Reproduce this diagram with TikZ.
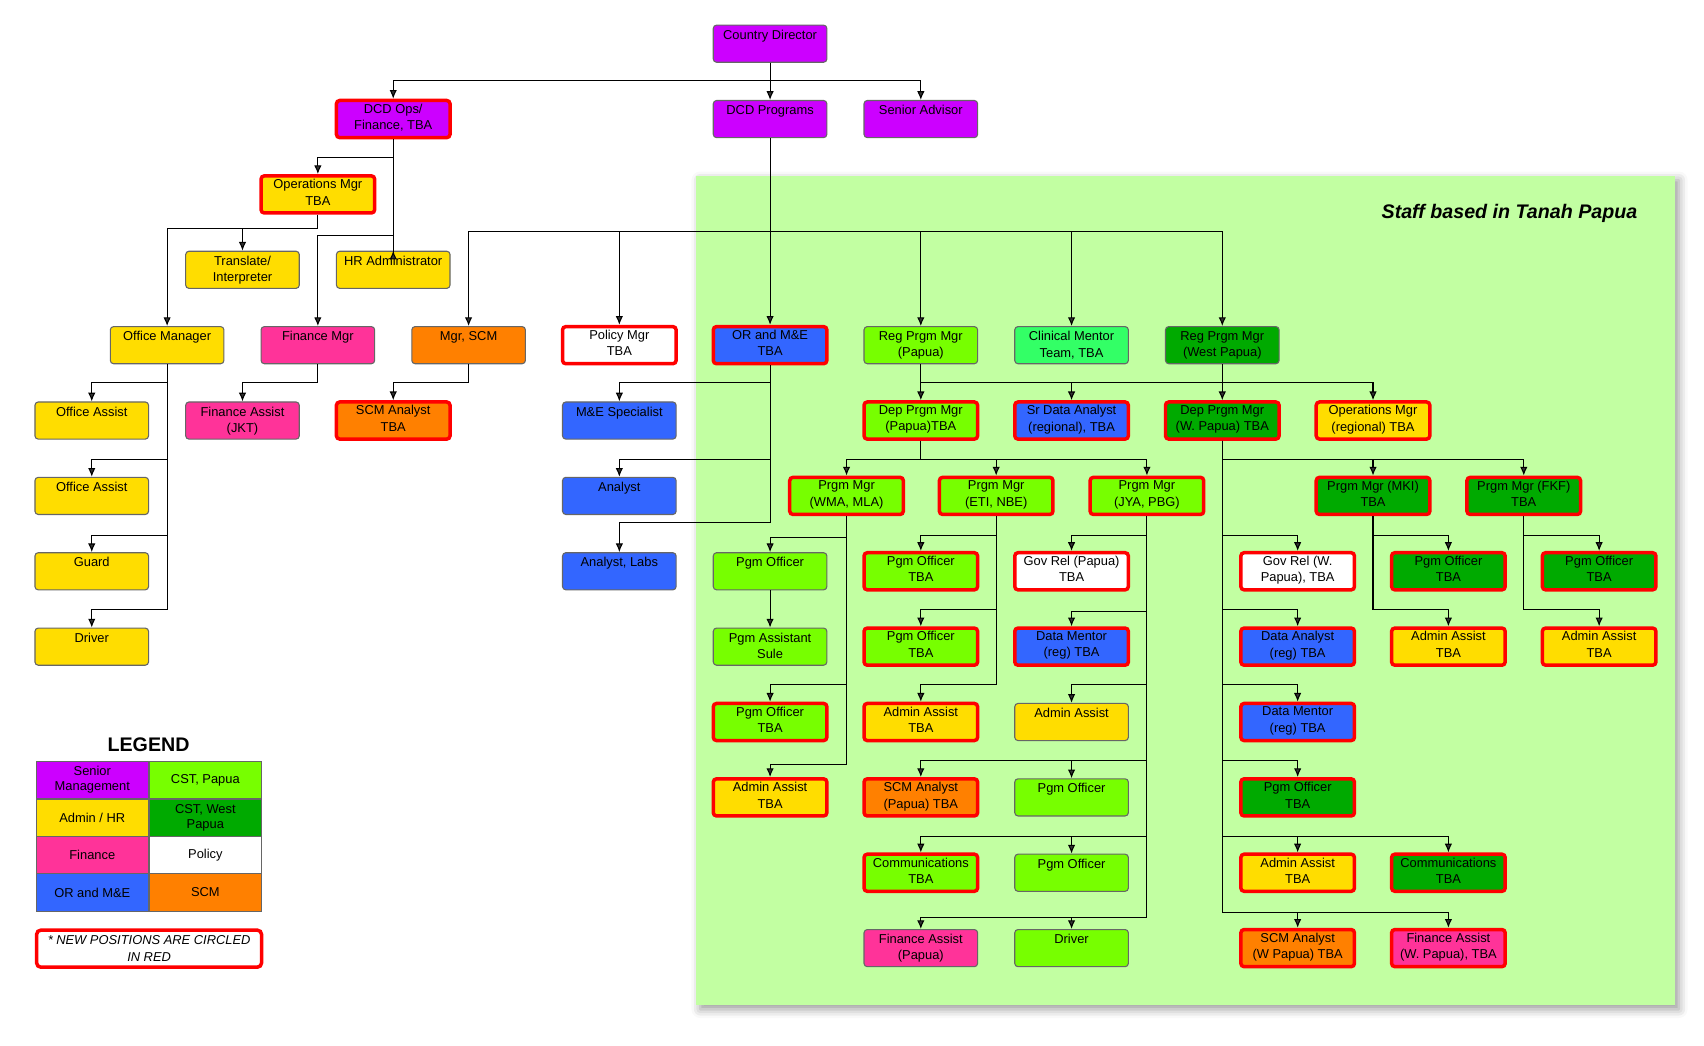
\documentclass[tikz,border=0pt]{standalone}
\usepackage{fontspec}
\setmainfont{Liberation Sans}
\usetikzlibrary{arrows.meta,shadows.blur}
\definecolor{cpur}{HTML}{CC00FF}
\definecolor{cyel}{HTML}{FFDD00}
\definecolor{cpink}{HTML}{FF3399}
\definecolor{cora}{HTML}{FF8000}
\definecolor{cblu}{HTML}{3366FF}
\definecolor{clg}{HTML}{77FF00}
\definecolor{cdg}{HTML}{00AA00}
\definecolor{cmint}{HTML}{33FF66}
\definecolor{cpanel}{HTML}{C2FFA2}
\tikzset{
 box/.style={draw=black!60,line width=0.5pt,rounded corners=1.5pt,minimum width=52pt,minimum height=17pt,inner sep=0pt},
 nw/.style={draw=red,line width=1.6pt},
 lbl/.style={anchor=north,align=center,font=\fontsize{5.9}{7.5}\selectfont,inner sep=0pt},
 ar/.style={-{Latex[length=4pt,width=3.4pt]},line width=0.5pt},
}
\newcommand\bx[5]{\node[box,#4] (#1) at (#2,#3) {}; \node[lbl] at ([yshift=-2.2pt]#1.north) {#5};}
\newcommand\elb[3]{\draw[ar] (#1.south) |- (#3.north |- 0,#2) -- (#3.north);}
\begin{document}
\begin{tikzpicture}[x=0.5pt,y=-0.5pt]
\useasboundingbox (0,0) rectangle (1560,957);
\fill[cpanel,blur shadow={shadow xshift=2pt,shadow yshift=-2pt,shadow blur radius=4pt}] (637,161) rectangle (1533,920);
\node[anchor=east,font=\fontsize{9}{10}\selectfont\bfseries\itshape] (title) at (1506,195) {Staff based in Tanah Papua};
% nodes
\bx{CD}{705}{40}{fill=cpur}{Country Director}
\bx{DCDops}{360}{109}{fill=cpur,nw}{DCD Ops/\\Finance, TBA}
\bx{DCDprog}{705}{109}{fill=cpur}{DCD Programs}
\bx{SrAdv}{843}{109}{fill=cpur}{Senior Advisor}
\bx{OpsMgr}{291}{178}{fill=cyel,nw}{Operations Mgr\\TBA}
\bx{Transl}{222}{247}{fill=cyel}{Translate/\\Interpreter}
\bx{HRA}{360}{247}{fill=cyel}{HR Administrator}
\bx{OfficeMgr}{153}{316}{fill=cyel}{Office Manager}
\bx{FinMgr}{291}{316}{fill=cpink}{Finance Mgr}
\bx{MgrSCM}{429}{316}{fill=cora}{Mgr, SCM}
\bx{PolicyMgr}{567}{316}{fill=white,nw}{Policy Mgr\\TBA}
\bx{ORME}{705}{316}{fill=cblu,nw}{OR and M\&E\\TBA}
\bx{RegPap}{843}{316}{fill=clg}{Reg Prgm Mgr\\(Papua)}
\bx{Clin}{981}{316}{fill=cmint}{Clinical Mentor\\Team, TBA}
\bx{RegWP}{1119}{316}{fill=cdg}{Reg Prgm Mgr\\(West Papua)}
\bx{OffA1}{84}{385}{fill=cyel}{Office Assist}
\bx{FinA}{222}{385}{fill=cpink}{Finance Assist\\(JKT)}
\bx{SCMAn}{360}{385}{fill=cora,nw}{SCM Analyst\\TBA}
\bx{MES}{567}{385}{fill=cblu}{M\&E Specialist}
\bx{DepPap}{843}{385}{fill=clg,nw}{Dep Prgm Mgr\\(Papua)TBA}
\bx{SrData}{981}{385}{fill=cblu,nw}{Sr Data Analyst\\(regional), TBA}
\bx{DepWP}{1119}{385}{fill=cdg,nw}{Dep Prgm Mgr\\(W. Papua) TBA}
\bx{OpsReg}{1257}{385}{fill=cyel,nw}{Operations Mgr\\(regional) TBA}
\bx{OffA2}{84}{454}{fill=cyel}{Office Assist}
\bx{Analyst}{567}{454}{fill=cblu}{Analyst}
\bx{PWMA}{775}{454}{fill=clg,nw}{Prgm Mgr\\(WMA, MLA)}
\bx{PETI}{912}{454}{fill=clg,nw}{Prgm Mgr\\(ETI, NBE)}
\bx{PJYA}{1050}{454}{fill=clg,nw}{Prgm Mgr\\(JYA, PBG)}
\bx{PMKI}{1257}{454}{fill=cdg,nw}{Prgm Mgr (MKI)\\TBA}
\bx{PFKF}{1395}{454}{fill=cdg,nw}{Prgm Mgr (FKF)\\TBA}
\bx{Guard}{84}{523}{fill=cyel}{Guard}
\bx{AnLabs}{567}{523}{fill=cblu}{Analyst, Labs}
\bx{PO1}{705}{523}{fill=clg}{Pgm Officer}
\bx{PO2}{843}{523}{fill=clg,nw}{Pgm Officer\\TBA}
\bx{GovP}{981}{523}{fill=white,nw}{Gov Rel (Papua)\\TBA}
\bx{GovWP}{1188}{523}{fill=white,nw}{Gov Rel (W.\\Papua), TBA}
\bx{PO3}{1326}{523}{fill=cdg,nw}{Pgm Officer\\TBA}
\bx{PO4}{1464}{523}{fill=cdg,nw}{Pgm Officer\\TBA}
\bx{Driver}{84}{592}{fill=cyel}{Driver}
\bx{PAs}{705}{592}{fill=clg}{Pgm Assistant\\Sule}
\bx{PO5}{843}{592}{fill=clg,nw}{Pgm Officer\\TBA}
\bx{DM1}{981}{592}{fill=cblu,nw}{Data Mentor\\(reg) TBA}
\bx{DA}{1188}{592}{fill=cblu,nw}{Data Analyst\\(reg) TBA}
\bx{AA1}{1326}{592}{fill=cyel,nw}{Admin Assist\\TBA}
\bx{AA2}{1464}{592}{fill=cyel,nw}{Admin Assist\\TBA}
\bx{PO6}{705}{661}{fill=clg,nw}{Pgm Officer\\TBA}
\bx{AA3}{843}{661}{fill=cyel,nw}{Admin Assist\\TBA}
\bx{AA4}{981}{661}{fill=cyel}{Admin Assist}
\bx{DM2}{1188}{661}{fill=cblu,nw}{Data Mentor\\(reg) TBA}
\bx{AA5}{705}{730}{fill=cyel,nw}{Admin Assist\\TBA}
\bx{SCMP}{843}{730}{fill=cora,nw}{SCM Analyst\\(Papua) TBA}
\bx{PO7}{981}{730}{fill=clg}{Pgm Officer}
\bx{PO8}{1188}{730}{fill=cdg,nw}{Pgm Officer\\TBA}
\bx{Com1}{843}{799}{fill=clg,nw}{Communications\\TBA}
\bx{PO9}{981}{799}{fill=clg}{Pgm Officer}
\bx{AA6}{1188}{799}{fill=cyel,nw}{Admin Assist\\TBA}
\bx{Com2}{1326}{799}{fill=cdg,nw}{Communications\\TBA}
\bx{FinP}{843}{868}{fill=cpink}{Finance Assist\\(Papua)}
\bx{Drv2}{981}{868}{fill=clg}{Driver}
\bx{SCMWP}{1188}{868}{fill=cora,nw}{SCM Analyst\\(W Papua) TBA}
\bx{FinWP}{1326}{868}{fill=cpink,nw}{Finance Assist\\(W. Papua), TBA}
% connectors
\elb{CD}{74}{DCDops}\elb{CD}{74}{DCDprog}\elb{CD}{74}{SrAdv}
\elb{DCDops}{144}{OpsMgr}\elb{DCDops}{216}{FinMgr}\elb{DCDops}{230}{HRA}
\elb{OpsMgr}{209}{OfficeMgr}\elb{OpsMgr}{209}{Transl}
\elb{DCDprog}{212}{MgrSCM}\elb{DCDprog}{212}{PolicyMgr}\elb{DCDprog}{212}{RegPap}\elb{DCDprog}{212}{Clin}\elb{DCDprog}{212}{RegWP}\elb{DCDprog}{212}{ORME}
\elb{OfficeMgr}{350}{OffA1}\elb{OfficeMgr}{421}{OffA2}\elb{OfficeMgr}{490}{Guard}\elb{OfficeMgr}{558}{Driver}
\elb{FinMgr}{350}{FinA}\elb{MgrSCM}{350}{SCMAn}
\elb{ORME}{350}{MES}\elb{ORME}{421}{Analyst}\elb{ORME}{478}{AnLabs}
\elb{RegPap}{350}{DepPap}\elb{RegPap}{350}{SrData}\elb{RegPap}{350}{OpsReg}\elb{RegWP}{350}{DepWP}
\elb{DepPap}{421}{PWMA}\elb{DepPap}{421}{PETI}\elb{DepPap}{421}{PJYA}
\elb{PWMA}{492}{PO1}\elb{PO1}{560}{PAs}\elb{PWMA}{627}{PO6}\elb{PWMA}{700}{AA5}
\elb{PETI}{490}{PO2}\elb{PETI}{558}{PO5}\elb{PETI}{627}{AA3}
\elb{PJYA}{490}{GovP}\elb{PJYA}{560}{DM1}\elb{PJYA}{627}{AA4}\elb{PJYA}{696}{SCMP}\elb{PJYA}{696}{PO7}\elb{PJYA}{766}{Com1}\elb{PJYA}{766}{PO9}\elb{PJYA}{840}{FinP}\elb{PJYA}{840}{Drv2}
\elb{DepWP}{421}{PMKI}\elb{DepWP}{421}{PFKF}\elb{DepWP}{490}{GovWP}\elb{DepWP}{558}{DA}\elb{DepWP}{627}{DM2}\elb{DepWP}{696}{PO8}\elb{DepWP}{766}{AA6}\elb{DepWP}{766}{Com2}\elb{DepWP}{835}{SCMWP}\elb{DepWP}{835}{FinWP}
\elb{PMKI}{490}{PO3}\elb{PMKI}{558}{AA1}\elb{PFKF}{490}{PO4}\elb{PFKF}{558}{AA2}
% legend
\node[font=\fontsize{9}{10}\selectfont\bfseries] (leg) at (136,682) {LEGEND};
\tikzset{lc/.style={draw=black!60,line width=0.4pt,minimum width=51.5pt,minimum height=17pt,inner sep=0pt,align=center,font=\fontsize{5.9}{7}\selectfont}}
\node[lc,fill=cpur] (l1) at (84.5,714) {Senior\\Management};
\node[lc,fill=clg] (l2) at (188,714) {CST, Papua};
\node[lc,fill=cyel] (l3) at (84.5,748.5) {Admin / HR};
\node[lc,fill=cdg] (l4) at (188,748.5) {CST, West\\Papua};
\node[lc,fill=cpink] (l5) at (84.5,783) {Finance};
\node[lc,fill=white] (l6) at (188,783) {Policy};
\node[lc,fill=cblu] (l7) at (84.5,817) {OR and M\&E};
\node[lc,fill=cora] (l8) at (188,817) {SCM};
\node[draw=red,line width=1.6pt,rounded corners=2pt,minimum width=103pt,minimum height=17pt,inner sep=0pt,align=center,font=\fontsize{5.9}{7.5}\selectfont\itshape] (note) at (136.5,868.5) {* NEW POSITIONS ARE CIRCLED\\IN RED};
\end{tikzpicture}
\end{document}
